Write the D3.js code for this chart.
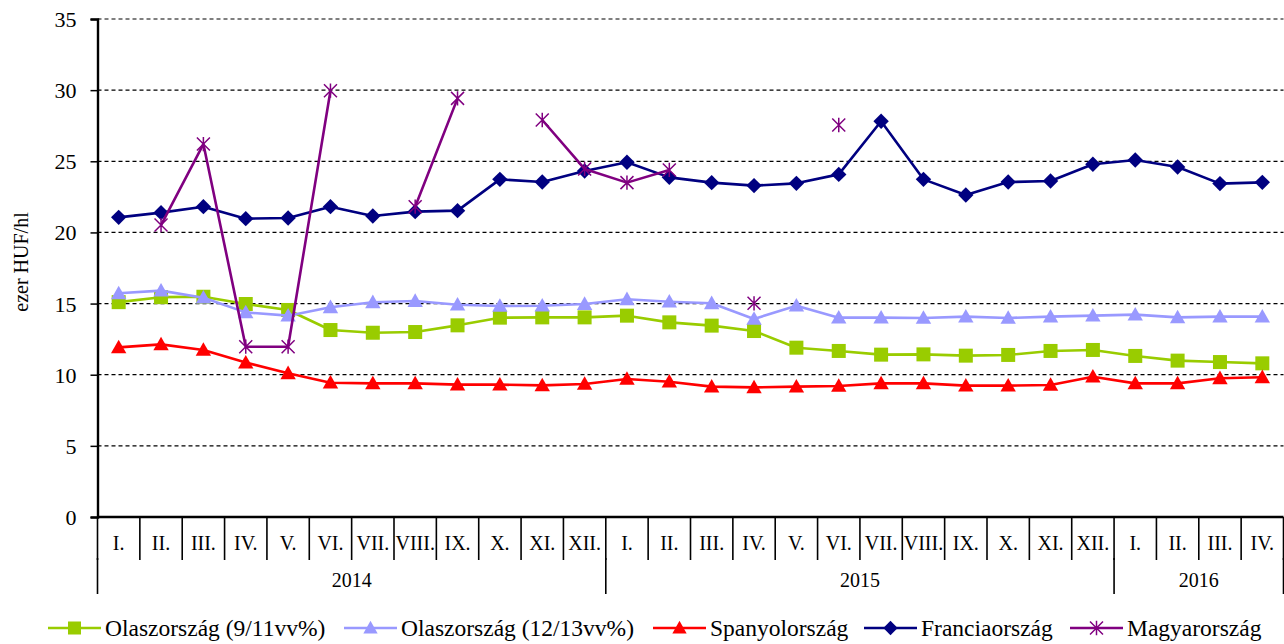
<!DOCTYPE html>
<html><head><meta charset="utf-8">
<script src="https://cdn.jsdelivr.net/npm/d3@7"></script>
<style>body{margin:0;background:#fff}svg{display:block}text{font-family:"Liberation Serif","Times New Roman",serif;fill:#000}</style>
</head><body><svg id="c" width="1284" height="644" font-family="Liberation Serif"></svg>
<script>
const months = ["I.","II.","III.","IV.","V.","VI.","VII.","VIII.","IX.","X.","XI.","XII.",
                "I.","II.","III.","IV.","V.","VI.","VII.","VIII.","IX.","X.","XI.","XII.",
                "I.","II.","III.","IV."];
const years = [{label:"2014",count:12},{label:"2015",count:12},{label:"2016",count:4}];
const yTicks = [0,5,10,15,20,25,30,35];

const olasz911 = [15.1,15.45,15.48,14.97,14.55,13.14,12.95,13.0,13.47,14.01,14.03,14.03,14.15,13.68,13.45,13.07,11.9,11.67,11.41,11.43,11.34,11.39,11.67,11.74,11.32,10.99,10.89,10.8];
const olasz1213 = [15.72,15.91,15.41,14.38,14.15,14.74,15.09,15.18,14.92,14.83,14.85,14.97,15.3,15.13,15.02,13.92,14.85,14.01,14.01,13.99,14.08,13.99,14.08,14.15,14.22,14.03,14.08,14.08];
const spanyol = [11.92,12.13,11.74,10.85,10.1,9.44,9.39,9.39,9.3,9.3,9.25,9.35,9.7,9.51,9.16,9.11,9.16,9.21,9.39,9.39,9.23,9.23,9.28,9.86,9.39,9.39,9.75,9.82];
const francia = [21.06,21.39,21.81,20.97,21.01,21.81,21.15,21.46,21.53,23.73,23.54,24.32,24.93,23.87,23.5,23.29,23.45,24.08,27.81,23.73,22.63,23.54,23.61,24.79,25.09,24.6,23.43,23.52];
const magyar = [null,20.52,26.21,11.97,11.97,29.96,null,21.81,29.42,null,27.9,24.46,23.5,24.39,null,15.02,null,27.55,null,null,null,null,null,null,null,null,null,null];

const series = [
  {name:"Olaszország (9/11vv%)", values:olasz911, color:"#99CC00", marker:"square"},
  {name:"Olaszország (12/13vv%)", values:olasz1213, color:"#9999FF", marker:"triangle"},
  {name:"Spanyolország", values:spanyol, color:"#FF0000", marker:"triangle"},
  {name:"Franciaország", values:francia, color:"#000080", marker:"diamond"},
  {name:"Magyarország", values:magyar, color:"#800080", marker:"asterisk"}
];

const svg = d3.select("#c");
const L = 97.5, R = 1283.5, T = 19, B = 517;
const x = d3.scaleBand().domain(d3.range(months.length)).range([L, R]).padding(0);
const y = d3.scaleLinear().domain([0,35]).range([B, T]);
const cx = i => x(i) + x.bandwidth()/2;

// gridlines
svg.append("g").selectAll("line").data(yTicks.filter(t => t > 0)).join("line")
  .attr("x1", L).attr("x2", R).attr("y1", d => y(d)).attr("y2", d => y(d))
  .attr("stroke", "#000").attr("stroke-width", 1.2).attr("stroke-dasharray", "4,3");

// y axis
const yAxis = d3.axisLeft(y).tickValues(yTicks).tickSize(7).tickPadding(14);
const gy = svg.append("g").attr("transform", `translate(${L},0)`).call(yAxis)
  .attr("font-family", "Liberation Serif").attr("font-size", 22);
gy.select(".domain").attr("stroke-width", 2.4);
gy.selectAll(".tick line").attr("stroke-width", 1.5);
gy.selectAll("text").attr("fill", "#000").attr("dy", "0.34em");

svg.append("text").attr("transform", `translate(21,262) rotate(-90)`)
  .attr("text-anchor", "middle").attr("dy", "0.35em").style("font-size", "20px").text("ezer HUF/hl");

// x axis line
svg.append("line").attr("x1", L).attr("x2", R).attr("y1", B).attr("y2", B)
  .attr("stroke", "#000").attr("stroke-width", 2.4);

// month dividers and labels
const gx = svg.append("g");
const edge = i => i < months.length ? x(i) : R;
gx.selectAll("line.m").data(d3.range(months.length + 1)).join("line").attr("class","m")
  .attr("x1", edge).attr("x2", edge)
  .attr("y1", B).attr("y2", 560).attr("stroke", "#000").attr("stroke-width", 1.6);
gx.selectAll("text.m").data(months).join("text").attr("class","m")
  .attr("x", (d,i) => cx(i)).attr("y", 550).attr("text-anchor","middle")
  .style("font-size", "20px").text(d => d);

// year dividers and labels
let start = 0;
const yearPos = years.map(yr => { const p = {label: yr.label, s: start, e: start + yr.count}; start += yr.count; return p; });
const yb = [0, ...yearPos.map(p => p.e)];
gx.selectAll("line.y").data(yb).join("line").attr("class","y")
  .attr("x1", edge).attr("x2", edge).attr("y1", 558).attr("y2", 594)
  .attr("stroke", "#000").attr("stroke-width", 1.6);
gx.selectAll("text.y").data(yearPos).join("text").attr("class","y")
  .attr("x", p => (edge(p.s) + edge(p.e)) / 2).attr("y", 587).attr("text-anchor","middle")
  .style("font-size", "20px").text(p => p.label);

// markers
function drawMarker(g, type, color, size) {
  const s = size;
  if (type === "square") {
    g.append("rect").attr("x", -s/2).attr("y", -s/2).attr("width", s).attr("height", s).attr("fill", color);
  } else if (type === "triangle") {
    g.append("path").attr("d", `M0,${-s*0.55}L${s*0.55},${s*0.42}L${-s*0.55},${s*0.42}Z`).attr("fill", color);
  } else if (type === "diamond") {
    const r = s * 0.55;
    g.append("path").attr("d", `M0,${-r}L${r},0L0,${r}L${-r},0Z`).attr("fill", color);
  } else if (type === "asterisk") {
    const r = s * 0.5;
    g.append("path").attr("d", `M${-r},${-r}L${r},${r}M${-r},${r}L${r},${-r}M0,${-r*1.1}L0,${r*1.1}`)
      .attr("stroke", color).attr("stroke-width", 1.5).attr("fill", "none");
  }
}

const line = d3.line().defined(d => d.v != null).x(d => cx(d.i)).y(d => y(d.v));
series.forEach(s => {
  const pts = s.values.map((v,i) => ({i, v}));
  const g = svg.append("g");
  g.append("path").datum(pts).attr("d", line).attr("fill", "none")
    .attr("stroke", s.color).attr("stroke-width", 2.6).attr("stroke-linejoin", "round");
  pts.filter(d => d.v != null).forEach(d => {
    const mg = g.append("g").attr("transform", `translate(${cx(d.i)},${y(d.v)})`);
    drawMarker(mg, s.marker, s.color, s.marker === "asterisk" ? 13 : 14);
  });
});

// legend
const legendX = [48, 344, 653, 864, 1070];
const ly = 628;
series.forEach((s, k) => {
  const g = svg.append("g").attr("transform", `translate(${legendX[k]},${ly})`);
  g.append("line").attr("x1", 0).attr("x2", 53).attr("y1", 0).attr("y2", 0)
    .attr("stroke", s.color).attr("stroke-width", 2.6);
  const mg = g.append("g").attr("transform", "translate(26.5,0)");
  drawMarker(mg, s.marker, s.color, 13);
  g.append("text").attr("x", 57).attr("y", 8).style("font-size", "23.5px").text(s.name);
});
</script>
</body></html>
